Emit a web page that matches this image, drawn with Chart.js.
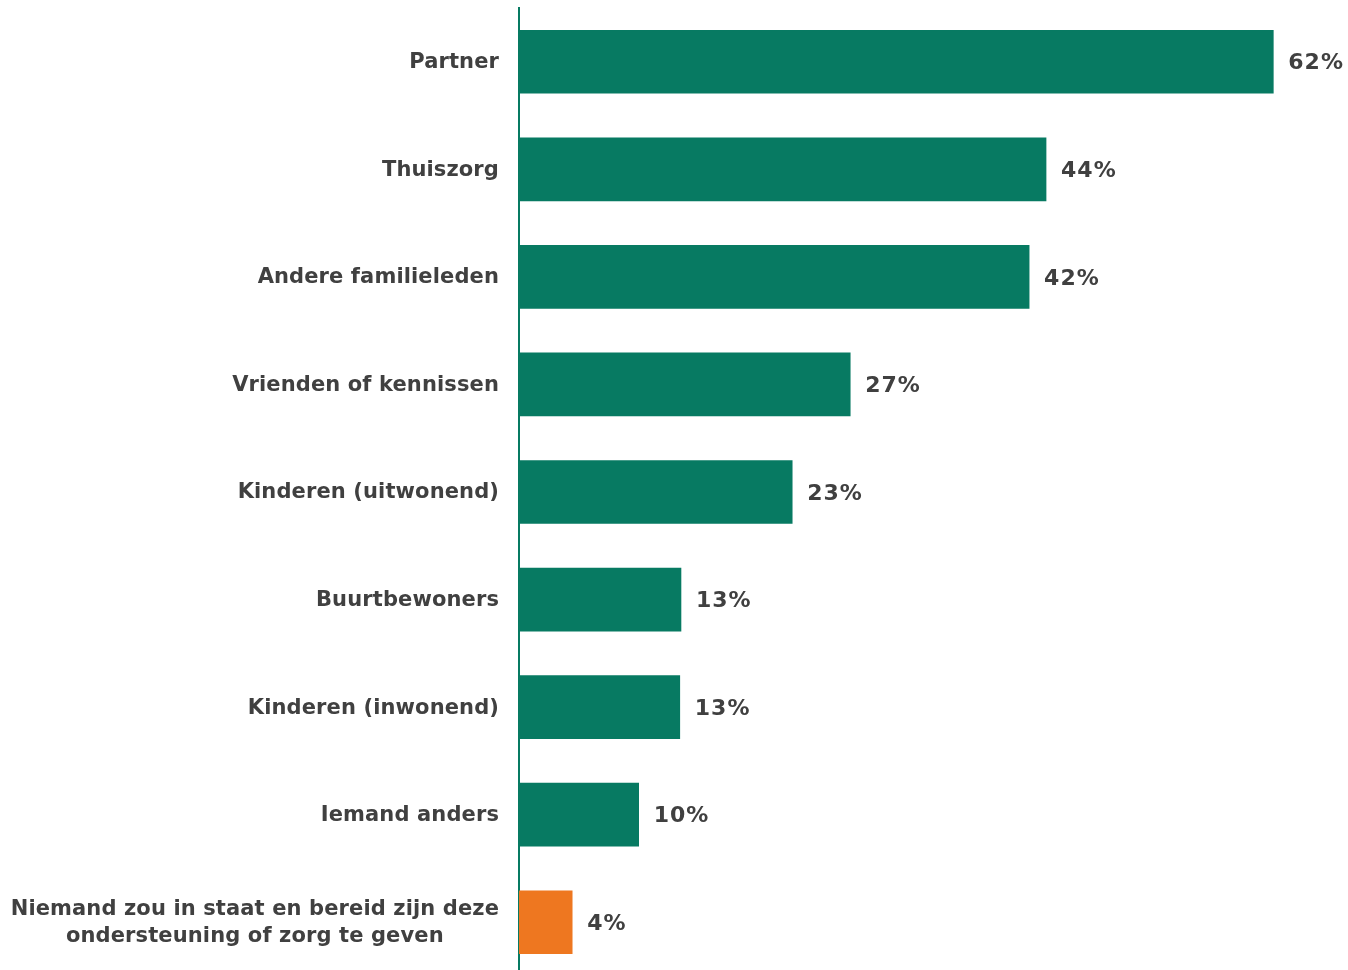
<!DOCTYPE html>
<html>
<head>
<meta charset="utf-8">
<script src="https://cdn.jsdelivr.net/npm/chart.js@4/dist/chart.umd.min.js"></script>
<style>
  html, body { margin: 0; padding: 0; background: #fff; overflow: hidden; }
  #wrap { width: 1348px; height: 976px; }
</style>
</head>
<body>
<div id="wrap"><canvas id="myChartBar"></canvas></div>
<script>
let categories = [
  ["Partner"],
  ["Thuiszorg"],
  ["Andere familieleden"],
  ["Vrienden of kennissen"],
  ["Kinderen (uitwonend)"],
  ["Buurtbewoners"],
  ["Kinderen (inwonend)"],
  ["Iemand anders"],
  ["Niemand zou in staat en bereid zijn deze", "ondersteuning of zorg te geven"]
];
let values = [62.4, 43.6, 42.2, 27.4, 22.6, 13.4, 13.3, 9.9, 4.4];
let colors = ["#077a62", "#077a62", "#077a62", "#077a62", "#077a62", "#077a62", "#077a62", "#077a62", "#ee7720"];

const textColor = "#404040";

// category labels and value labels drawn after the bars
const labelPlugin = {
  id: "labels",
  afterDatasetsDraw(chart) {
    const ctx = chart.ctx;
    const yScale = chart.scales.y;
    const meta = chart.getDatasetMeta(0);
    ctx.save();
    ctx.fillStyle = textColor;
    ctx.font = "bold 21px 'DejaVu Sans', Verdana, sans-serif";
    ctx.letterSpacing = "0.12px";
    ctx.textBaseline = "middle";
    categories.forEach((lines, i) => {
      let y = yScale.getPixelForTick(i) + 1;
      let right = chart.chartArea.left - 20;
      let lh = 27;
      let y0 = y - (lines.length - 1) * lh / 2;
      if (lines.length === 1) {
        ctx.textAlign = "right";
        ctx.fillText(lines[0], right, y);
      } else {
        let w = Math.max(...lines.map(l => ctx.measureText(l).width));
        ctx.textAlign = "center";
        lines.forEach((l, k) => ctx.fillText(l, right - w / 2, y0 + k * lh));
      }
    });
    ctx.font = "bold 22px 'DejaVu Sans', Verdana, sans-serif";
    ctx.letterSpacing = "1px";
    ctx.textAlign = "left";
    meta.data.forEach((bar, i) => {
      ctx.fillText(Math.round(values[i]) + "%", bar.x + 15, bar.y + 2);
    });
    ctx.restore();
  }
};

new Chart(document.getElementById("myChartBar"), {
  type: "bar",
  data: {
    labels: categories,
    datasets: [{
      data: values,
      backgroundColor: colors,
      barThickness: 63
    }]
  },
  options: {
    indexAxis: "y",
    responsive: true,
    maintainAspectRatio: false,
    animation: false,
    layout: { padding: { top: 8, right: 7, bottom: 0, left: 0 } },
    plugins: {
      legend: { display: false },
      tooltip: { enabled: false }
    },
    scales: {
      x: {
        display: false,
        min: 0,
        max: 68
      },
      y: {
        grid: { display: false, drawTicks: false },
        border: { display: true, color: "#077a62", width: 2 },
        ticks: { display: false },
        afterFit(scale) { scale.width = 519; }
      }
    }
  },
  plugins: [labelPlugin]
});
</script>
</body>
</html>
